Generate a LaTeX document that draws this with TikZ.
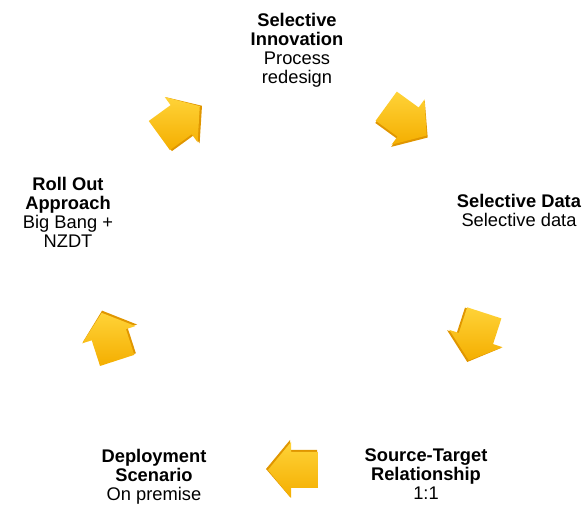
\documentclass[tikz,border=0pt]{standalone}
\usepackage{fontspec}
\setmainfont{Liberation Sans}
\usepackage{tikz}
\usetikzlibrary{positioning}
\definecolor{gold}{HTML}{F4AE00}
\definecolor{goldlt}{HTML}{FFD338}
\definecolor{golddk}{HTML}{E09600}

\begin{document}
\begin{tikzpicture}[
  x=1pt, y=1pt,
  font=\fontsize{18.3}{19}\selectfont,
  lbl/.style={align=center,anchor=north,inner sep=0pt},
  blk/.pic={
    \fill[golddk] (-24,-20) -- (3,-20) -- (3,-30) -- (27,-1) -- (3,27) -- (3,17) -- (-24,17) -- cycle;
    \shade[top color=goldlt,bottom color=gold] (-25,-18) -- (2,-18) -- (2,-28) -- (25,0) -- (2,28) -- (2,18) -- (-25,18) -- cycle;
  }
]
\useasboundingbox (0,0) rectangle (586,505);

\node[lbl] (innov) at (297,492) {\textbf{Selective}\\\textbf{Innovation}\\Process\\redesign};
\node[lbl] (seldata) at (519,311) {\textbf{Selective Data}\\Selective data};
\node[lbl] (srctgt) at (426,56) {\textbf{Source-Target}\\\textbf{Relationship}\\1:1};
\node[lbl] (deploy) at (154,56) {\textbf{Deployment}\\\textbf{Scenario}\\On premise};
\node[lbl] (rollout) at (68,328) {\textbf{Roll Out}\\\textbf{Approach}\\Big Bang +\\NZDT};

% arrows round the circle
\begin{scope}[shift={(293,228)}]
  \foreach \a in {126,54,-18,-90,198}
    \pic[rotate=\a-90] at (\a:193) {blk};
\end{scope}
\end{tikzpicture}
\end{document}
